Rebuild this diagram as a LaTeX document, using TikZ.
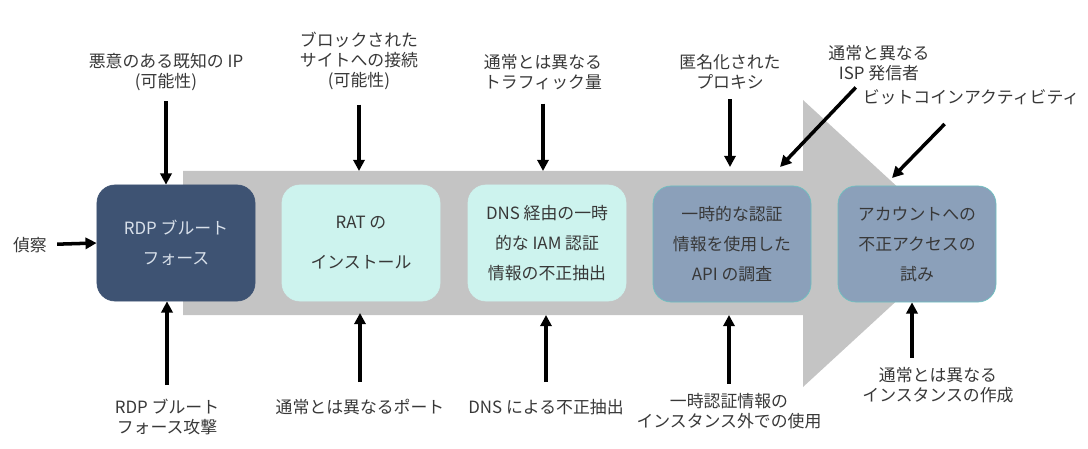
\documentclass[tikz,border=0pt]{standalone}
\usepackage{fontspec}
\setmainfont{Noto Sans CJK JP}
\usepackage{xcolor}
\usetikzlibrary{arrows.meta}

\definecolor{flowgray}{HTML}{C4C4C4}
\definecolor{navybox}{HTML}{3E5373}
\definecolor{mintbox}{HTML}{CDF3EE}
\definecolor{slatebox}{HTML}{8BA0BA}
\definecolor{tealedge}{HTML}{6EC0C0}
\definecolor{labeltext}{HTML}{383838}
\definecolor{lighttext}{HTML}{D8E0EA}

\tikzset{
  stage/.style={rectangle, rounded corners=4.5mm, minimum width=39.5mm, minimum height=29mm, align=center, text=labeltext, line width=0.5pt},
  cue/.style={align=center, inner sep=0pt, text=labeltext, font=\fontsize{12}{14.2}\selectfont},
  arr/.style={-{Triangle[length=2.8mm,width=2.8mm]}, line width=2.5pt, black}
}

\begin{document}
\begin{tikzpicture}[x=0.25mm, y=-0.25mm]
            \useasboundingbox (0,0) rectangle (1088,449);

            % Flow arrow
            \fill[flowgray] (183,171) -- (803,171) -- (803,100) -- (959,243.5) -- (803,387) -- (803,315) -- (183,315) -- cycle;
            \coordinate (st) at (183,171);
            \coordinate (sb) at (183,315);

            % Stages
            \node[stage, fill=navybox, draw=navybox, text=lighttext, font=\fontsize{12}{21.3}\selectfont] (brute) at (176,243) {RDP ブルート\\フォース};
            \node[stage, fill=mintbox, draw=mintbox, font=\fontsize{12}{28.5}\selectfont] (rat) at (361,243) {RAT の\\インストール};
            \node[stage, fill=mintbox, draw=mintbox, font=\fontsize{12}{21.3}\selectfont] (exfil) at (547,243) {DNS 経由の一時\\的な IAM 認証\\情報の不正抽出};
            \node[stage, fill=slatebox, draw=tealedge, font=\fontsize{12}{21.3}\selectfont] (probe) at (732,244) {一時的な認証\\情報を使用した\\API の調査};
            \node[stage, fill=slatebox, draw=tealedge, font=\fontsize{12}{21.3}\selectfont] (access) at (917,244) {アカウントへの\\不正アクセスの\\試み};

            % Labels above
            \node[cue] (knownip) at (166,72) {悪意のある既知の IP\\(可能性)};
            \node[cue] (blocked) at (359,61) {ブロックされた\\サイトへの接続\\(可能性)};
            \node[cue] (traffic) at (543,72) {通常とは異なる\\トラフィック量};
            \node[cue] (proxy) at (730,72) {匿名化された\\プロキシ};
            \node[cue] (isp) at (879,63) {通常と異なる\\ISP 発信者};
            \node[cue] (bitcoin) at (971,97) {ビットコインアクティビティ};

            % Labels below
            \node[cue] (recon) at (30,245) {偵察};
            \node[cue] (bruteatk) at (167,417) {RDP ブルート\\フォース攻撃};
            \node[cue] (port) at (360,407) {通常とは異なるポート};
            \node[cue] (dnsexfil) at (546,407) {DNS による不正抽出};
            \node[cue] (tempcred) at (729,411) {一時認証情報の\\インスタンス外での使用};
            \node[cue] (newinst) at (938,385) {通常とは異なる\\インスタンスの作成};

            \coordinate (ispend) at (780,167);
            \coordinate (btcend) at (892,178);

            % Arrows
            \draw[arr, shorten <=2.6mm] (knownip.south) -- (knownip.south |- brute.north);
            \draw[arr, shorten <=3.6mm] (blocked.south) -- (blocked.south |- st);
            \draw[arr, shorten <=3.4mm] (traffic.south) -- (traffic.south |- st);
            \draw[arr, shorten <=2.4mm] (proxy.south) -- ([yshift=1mm]proxy.south |- st);
            \draw[arr, shorten <=2.2mm] (isp) -- (ispend);
            \draw[arr, shorten <=6.7mm] (bitcoin) -- (btcend);
            \draw[arr, shorten <=2.5mm] (recon) -- (brute.west);
            \draw[arr, shorten <=3.4mm] (bruteatk.north) -- (bruteatk.north |- brute.south);
            \draw[arr, shorten <=4.2mm] (port.north) -- ([yshift=0.5mm]port.north |- sb);
            \draw[arr, shorten <=4.2mm] (dnsexfil.north) -- (dnsexfil.north |- sb);
            \draw[arr, shorten <=2.3mm] (tempcred.north) -- (tempcred.north |- sb);
            \draw[arr, shorten <=2.3mm] ([xshift=-6.5mm]newinst.north) -- ([xshift=-6.5mm]newinst.north |- access.south);
        \end{tikzpicture}
\end{document}
